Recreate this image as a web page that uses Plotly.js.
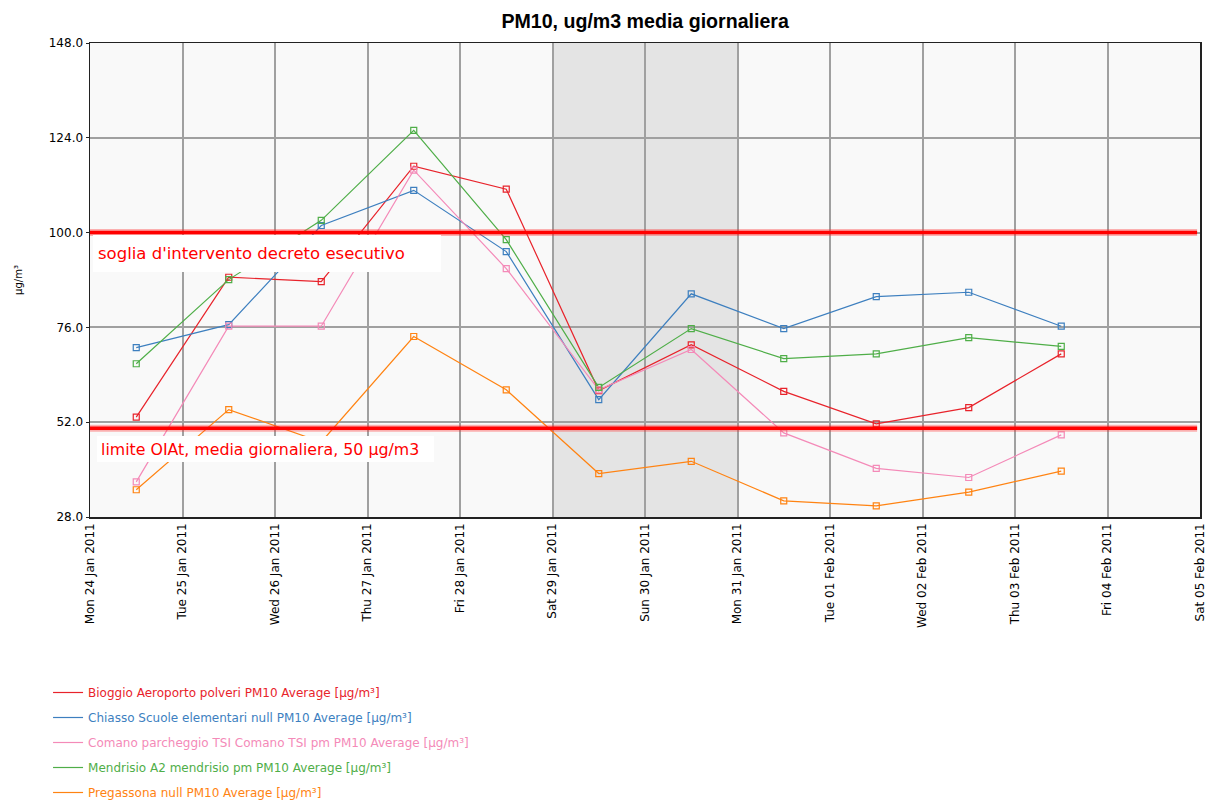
<!DOCTYPE html>
<html>
<head>
<meta charset="utf-8">
<script src="https://cdn.plot.ly/plotly-3.0.1.min.js"></script>
<style>html,body{margin:0;padding:0;background:#fff;}#chart{width:1214px;height:800px;}</style>
</head>
<body>
<div id="chart"></div>
<script>
// ---- data ----
const dates = ["2011-01-24 12:00","2011-01-25 12:00","2011-01-26 12:00","2011-01-27 12:00","2011-01-28 12:00","2011-01-29 12:00","2011-01-30 12:00","2011-01-31 12:00","2011-02-01 12:00","2011-02-02 12:00","2011-02-03 12:00"];
const bioggio    = [53.3, 88.7, 87.6, 116.8, 111.0, 60.0, 71.6, 59.8, 51.6, 55.7, 69.3];
const chiasso    = [70.9, 76.7, 101.8, 110.7, 95.2, 57.7, 84.5, 75.7, 83.8, 84.9, 76.3];
const comano     = [36.9, 76.3, 76.3, 115.8, 90.9, 60.2, 70.4, 49.3, 40.3, 38.0, 48.8];
const mendrisio  = [66.8, 88.1, 103.1, 125.9, 98.2, 60.8, 75.7, 68.1, 69.3, 73.4, 71.2];
const pregassona = [34.9, 55.2, 47.0, 73.7, 60.2, 39.0, 42.1, 32.1, 30.8, 34.3, 39.6];
const seriesNames = [
  "Bioggio Aeroporto polveri PM10 Average [µg/m³]",
  "Chiasso Scuole elementari null PM10 Average [µg/m³]",
  "Comano parcheggio TSI Comano TSI pm PM10 Average [µg/m³]",
  "Mendrisio A2 mendrisio pm PM10 Average [µg/m³]",
  "Pregassona null PM10 Average [µg/m³]"
];
const thresholdValues = [100, 50.5];
const thresholdLabels = ["soglia d'intervento decreto esecutivo", "limite OIAt, media giornaliera, 50 µg/m3"];
const thresholdSpan = ["2011-01-24 00:00", "2011-02-04 23:15"];
const weekend = ["2011-01-29", "2011-01-31"];
const yTicks = [28, 52, 76, 100, 124, 148];
const xRange = ["2011-01-24", "2011-02-05"];
const chartTitle = "PM10, ug/m3 media giornaliera";
const yTitle = "µg/m³";

// ---- styles ----
const colors = ["#e8232b", "#3d7fbf", "#f48ab8", "#4fae48", "#ff8312"];
const seriesData = [bioggio, chiasso, comano, mendrisio, pregassona];
const traces = [];
seriesData.forEach((vals, i) => {
  traces.push({
    x: dates, y: vals, type: "scatter", mode: "lines",
    line: {color: colors[i], width: 1.2},
    name: '<span style="color:' + colors[i] + '">' + seriesNames[i] + '</span>',
    legendgroup: "g" + i, hoverinfo: "x+y"
  });
});
seriesData.forEach((vals, i) => {
  traces.push({
    x: dates, y: vals, type: "scatter", mode: "markers",
    marker: {symbol: "square-open", size: 6, color: colors[i], line: {width: 1.2, color: colors[i]}},
    showlegend: false, legendgroup: "g" + i, hoverinfo: "skip"
  });
});
thresholdValues.forEach(v => {
  traces.push({x: thresholdSpan, y: [v, v], type: "scatter", mode: "lines",
    line: {color: "rgba(255,40,40,0.35)", width: 7}, showlegend: false, hoverinfo: "skip"});
  traces.push({x: thresholdSpan, y: [v, v], type: "scatter", mode: "lines",
    line: {color: "#ff0000", width: 3.5}, showlegend: false, hoverinfo: "skip"});
});

const layout = {
  width: 1214, height: 800,
  margin: {l: 90, r: 14, t: 43, b: 283},
  paper_bgcolor: "#ffffff",
  plot_bgcolor: "#f9f9f9",
  font: {family: "DejaVu Sans", size: 12, color: "#000"},
  title: {text: "<b>" + chartTitle + "</b>", font: {family: "Liberation Sans", size: 19.6, color: "#000"},
          x: 0.5314, xanchor: "center", y: 0.9735, yanchor: "middle"},
  xaxis: {
    type: "date", range: xRange, tick0: "2011-01-24", dtick: 86400000,
    tickformat: "%a %d %b %Y", tickangle: -90,
    tickfont: {family: "DejaVu Sans", size: 12, color: "#000"},
    showgrid: true, gridcolor: "#a0a0a0", gridwidth: 2,
    showline: true, linecolor: "#222", linewidth: 1.5, mirror: true,
    ticks: "", zeroline: false
  },
  yaxis: {
    range: [28, 148], tickvals: yTicks, tickformat: ".1f",
    tickfont: {family: "DejaVu Sans", size: 12, color: "#000"},
    showgrid: true, gridcolor: "#a0a0a0", gridwidth: 2,
    showline: true, linecolor: "#222", linewidth: 1.5, mirror: true,
    ticks: "outside", ticklen: 3, tickcolor: "#222",
    zeroline: false,
    title: {text: yTitle, font: {family: "DejaVu Sans", size: 10, color: "#000"}, standoff: 24}
  },
  shapes: [
    {type: "rect", xref: "x", yref: "paper", x0: weekend[0], x1: weekend[1], y0: 0, y1: 1,
     fillcolor: "#e4e4e4", line: {width: 0}, layer: "below"}
  ],
  annotations: [
    {text: thresholdLabels[0], xref: "paper", yref: "paper", x: 0.0027, y: 0.5956,
     xanchor: "left", yanchor: "top", showarrow: false, align: "left", valign: "middle",
     width: 338, height: 27, borderpad: 5, borderwidth: 0, bgcolor: "#ffffff",
     font: {family: "DejaVu Sans", size: 16.5, color: "#ff0000"}},
    {text: thresholdLabels[1], xref: "paper", yref: "paper", x: 0.0063, y: 0.1715,
     xanchor: "left", yanchor: "top", showarrow: false, align: "left", valign: "middle",
     width: 329, height: 18, borderpad: 4, borderwidth: 0, bgcolor: "#ffffff",
     font: {family: "DejaVu Sans", size: 15.8, color: "#ff0000"}}
  ],
  showlegend: true,
  legend: {
    xref: "paper", x: -0.0378, xanchor: "left",
    yref: "container", y: 0.1525, yanchor: "top",
    orientation: "v", traceorder: "grouped", tracegroupgap: 6,
    font: {family: "DejaVu Sans", size: 12},
    bgcolor: "rgba(0,0,0,0)", borderwidth: 0
  },
  hovermode: false
};

Plotly.newPlot("chart", traces, layout, {displayModeBar: false, staticPlot: true});
</script>
</body>
</html>
